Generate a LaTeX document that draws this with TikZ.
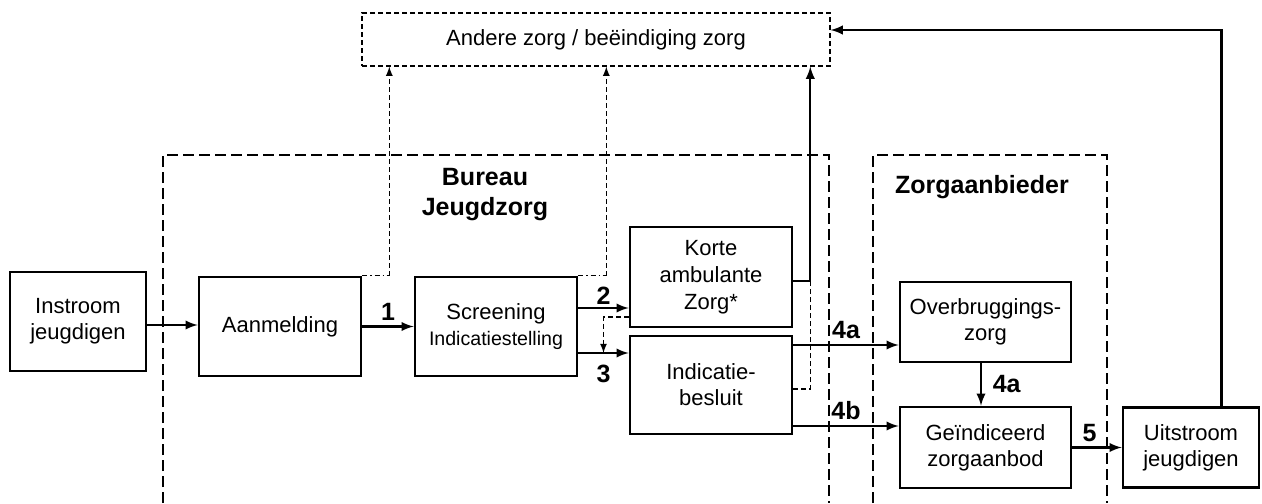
\documentclass[tikz,border=0pt]{standalone}
\usepackage{fontspec}
\setmainfont{Liberation Sans}
\usepackage{tikz}
\usetikzlibrary{arrows,calc,positioning}
\tikzstyle{blok}=[rectangle,line width=1.3pt,draw=black,fill=white,align=center,minimum width=81pt,minimum height=49.5pt,inner sep=1pt,font=\fontsize{11}{13}\selectfont]
\tikzstyle{nr}=[font=\fontsize{12.5}{14}\bfseries]
\tikzset{
	pijl/.style={-latex,line width=1.1pt},
	stip/.style={-latex,line width=0.6pt,dash pattern=on 2.5pt off 1.5pt},
	streepstip/.style={line width=0.6pt,dash pattern=on 2.5pt off 1.5pt on 0.6pt off 1.5pt},
	gebied/.style={line width=1.25pt,dash pattern=on 5.5pt off 2.5pt}
}

\begin{document}
\begin{tikzpicture}
	\useasboundingbox (0,0) rectangle (631pt,-251.5pt);
	\draw[gebied] (81.5pt,-251.5pt) |- (414.5pt,-77.5pt) -- (414.5pt,-251.5pt);
	\draw[gebied] (436.5pt,-251.5pt) |- (553.5pt,-77.5pt) -- (553.5pt,-251.5pt);
	\node (bj) [nr,align=center,font=\fontsize{12.5}{15}\bfseries] at (242.5pt,-97.5pt) {Bureau\\Jeugdzorg};
	\node (za) [nr,anchor=west] at (444pt,-93.5pt) {Zorgaanbieder};
	\node (azb) [blok,line width=0.6pt,dash pattern=on 2.5pt off 1.5pt,minimum width=234pt,minimum height=26.5pt] at (298pt,-19.75pt) {Andere zorg / beëindiging zorg};
	\node (inst) [blok,minimum width=68pt] at (39pt,-160.75pt) {Instroom\\jeugdigen};
	\node (aanm) [blok,right=25.2pt of inst,yshift=-2.5pt] {Aanmelding};
	\node (scr) [blok,right=25.7pt of aanm] {Screening\\{\fontsize{9.8}{12}\selectfont Indicatiestelling}};
	\node (kaz) [blok,minimum height=50pt,right=25.2pt of scr,yshift=24.75pt,font=\fontsize{11}{13.5}\selectfont] {Korte\\ambulante\\Zorg*};
	\node (ib) [blok,minimum height=49pt,below=3.2pt of kaz] {Indicatie-\\besluit};
	\node (ovb) [blok,minimum width=85.5pt,minimum height=40pt,right=52.7pt of ib,yshift=31.5pt] {Overbruggings-\\zorg};
	\node (gza) [blok,minimum width=85.5pt,minimum height=40.5pt,below=21.2pt of ovb] {Geïndiceerd\\zorgaanbod};
	\node (uit) [blok,minimum width=68pt,minimum height=40pt,right=24.7pt of gza] {Uitstroom\\jeugdigen};
	\draw[pijl] ([yshift=-1.75pt]inst.east) coordinate (p0) -- (p0 -| aanm.west);
	\draw[pijl] (aanm) -- node[nr,above=-1pt] {1} (scr);
	\draw[pijl] ([yshift=9.25pt]scr.east) coordinate (p2) -- node[nr,above=-2pt] {2} (p2 -| kaz.west);
	\draw[pijl] ([yshift=-13.25pt]scr.east) coordinate (p3) -- node[nr,below=2pt] {3} (p3 -| ib.west);
	\draw[stip] ([yshift=-20pt]kaz.west) -| ($(p3)!0.5!(p3 -| ib.west)$);
	\draw[streepstip] (aanm.north east) -- ++(13.5pt,0) coordinate (q1);
	\draw[stip] (q1) -- (q1 |- azb.south);
	\draw[streepstip] (scr.north east) -- ++(14pt,0) coordinate (q2);
	\draw[stip] (q2) -- (q2 |- azb.south);
	\draw[pijl] ([yshift=-2pt]kaz.east) -- ++(8.5pt,0) coordinate (q3) -- (q3 |- azb.south);
	\draw[line width=0.6pt,dash pattern=on 2.5pt off 1.5pt] ([yshift=-2pt]ib.east) -| (q3);
	\draw[pijl] ([yshift=20pt]ib.east) coordinate (p4) -- node[nr,above=-1pt] {4a} (p4 -| ovb.west);
	\draw[pijl] ([yshift=-20.5pt]ib.east) coordinate (p5) -- node[nr,above=-1pt] {4b} (p5 -| gza.west);
	\draw[pijl] ([xshift=-2.25pt]ovb.south) -- node[nr,right=2pt] {4a} ([xshift=-2.25pt]gza.north);
	\draw[pijl] (gza) -- node[nr,above=-1pt,pos=0.35] {5} (uit);
	\draw[pijl] ([xshift=15.25pt]uit.north) |- ([yshift=4.75pt]azb.east);
\end{tikzpicture}
\end{document}
